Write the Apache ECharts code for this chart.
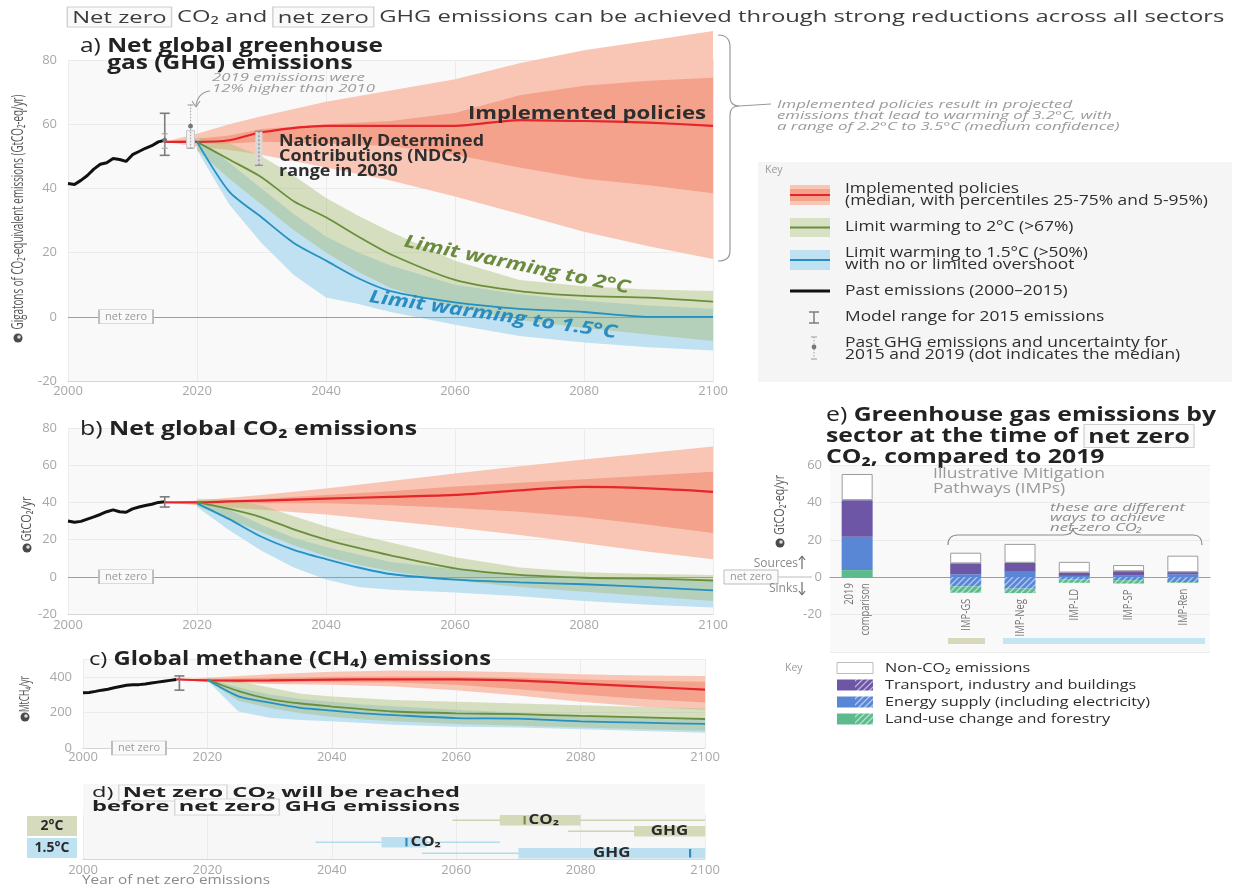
<!DOCTYPE html>
<html>
<head>
<meta charset="utf-8">
<title>Net zero CO2 and net zero GHG emissions</title>
<script src="https://cdn.jsdelivr.net/npm/echarts@6.0.0/dist/echarts.min.js"></script>
<style>
  html, body { margin: 0; padding: 0; background: #ffffff; }
  #chart { width: 1239px; height: 889px; }
</style>
</head>
<body>
<div id="chart"></div>
<script>
// ---------- Past emissions 2000-2015 ----------
const pastYears = [2000, 2001, 2002, 2003, 2004, 2005, 2006, 2007, 2008, 2009, 2010, 2011, 2012, 2013, 2014, 2015];
const ghgPast = [41.5, 41.2, 42.5, 44, 46, 47.5, 48, 49.3, 49, 48.4, 50.5, 51.5, 52.5, 53.3, 54.5, 55];
const co2Past = [30, 29.3, 29.8, 31, 32.2, 33.5, 35, 36, 35, 34.7, 36.5, 37.5, 38.3, 39, 40, 40.3];
const ch4Past = [310, 312, 318, 325, 330, 338, 345, 352, 355, 356, 360, 365, 370, 375, 380, 385];

// ---------- Implemented policies (median, 25-75%, 5-95%) ----------
const policyYears = [2015, 2020, 2025, 2030, 2040, 2050, 2060, 2070, 2080, 2090, 2100];
const ghgPolicyMed = [54.5, 54.5, 55, 57.5, 59.5, 59.5, 59.5, 61.3, 61, 60.5, 59.5];
const ghgPolicyP25 = [54.5, 54, 54, 54.5, 54, 53.2, 50.5, 46.5, 43, 41, 38.5];
const ghgPolicyP75 = [54.5, 55.5, 56.5, 58.5, 60, 61, 63.5, 69, 72, 73.5, 74.5];
const ghgPolicyP5 = [54.5, 53, 52, 50.5, 46.5, 42.5, 37.5, 32, 26.5, 22, 18];
const ghgPolicyP95 = [54.5, 57, 60, 62.5, 67, 70.5, 74, 79, 83, 86, 89];

const co2PolicyMed = [40, 40, 40.5, 41, 42, 43, 44, 46.5, 48.3, 47.5, 45.7];
const co2PolicyP25 = [40, 39.5, 39.5, 39.5, 39.5, 38.5, 37, 35, 32, 28, 23.5];
const co2PolicyP75 = [40, 40.5, 41.3, 42, 44, 46, 48.5, 50.5, 52.5, 54.5, 56.5];
const co2PolicyP5 = [40, 38.5, 37.3, 36, 33.5, 30, 26.5, 22.5, 18, 13.5, 9.5];
const co2PolicyP95 = [40, 41, 42.5, 44, 47.5, 51.5, 55.5, 59.5, 63, 66.5, 70];

const ch4PolicyMed = [385, 380, 379, 380, 384, 386, 385, 378, 362, 345, 328];
const ch4PolicyP25 = [385, 375, 372, 370, 370, 368, 355, 330, 300, 275, 255];
const ch4PolicyP75 = [385, 388, 392, 395, 400, 402, 400, 395, 385, 378, 372];
const ch4PolicyP5 = [385, 370, 365, 360, 355, 345, 325, 295, 260, 232, 215];
const ch4PolicyP95 = [385, 395, 405, 415, 428, 435, 432, 425, 415, 408, 405];

// ---------- Mitigation pathways: 2°C (>67%) and 1.5°C (>50%) ----------
const pathYears = [2020, 2025, 2030, 2035, 2040, 2045, 2050, 2060, 2070, 2080, 2090, 2100];
const ghg2Med = [54.5, 49, 43.5, 36, 31, 25, 19.5, 11.5, 8, 6.5, 6, 4.7];
const ghg2Hi = [56, 54, 50, 44, 37, 31.5, 26.5, 17.5, 11.5, 9.5, 8.5, 8];
const ghg2Lo = [52, 43, 35, 27, 20, 14, 9, 3, -1, -3.5, -5.5, -7.5];
const ghg15Med = [54.5, 39, 31, 23, 17.5, 12, 8, 4.5, 2.5, 1.5, 0, 0];
const ghg15Hi = [56, 48, 40, 32, 25, 20, 16, 10, 7, 5, 3.5, 2.5];
const ghg15Lo = [52, 35, 23, 13, 6, 4, 1.5, -2.5, -6, -8, -9.5, -10.5];

const co22Med = [40, 36.5, 32, 25.5, 20, 15.5, 11.5, 4.5, 1, -0.5, -1, -2];
const co22Hi = [42, 41.5, 38.5, 32.5, 27, 22.5, 18.5, 10.5, 5, 2.5, 1.5, 1];
const co22Lo = [38, 31, 24, 17, 11, 6.5, 3, -2, -5.5, -8, -10.5, -13];
const co215Med = [39.5, 31, 21.5, 14.5, 9.5, 5, 1.5, -1.5, -3, -4, -5.5, -7.3];
const co215Hi = [41, 36, 28, 21, 16, 12, 8, 4, 1.5, 0, -1, -1.5];
const co215Lo = [37.5, 25, 14, 5, -1.5, -5.5, -7, -8.5, -10.5, -13, -15, -16.5];

const ch42Med = [385, 320, 275, 250, 233, 218, 205, 195, 190, 180, 172, 163];
const ch42Hi = [395, 375, 340, 305, 290, 280, 270, 260, 250, 240, 230, 222];
const ch42Lo = [378, 265, 225, 195, 175, 160, 150, 135, 125, 115, 105, 97];
const ch415Med = [383, 290, 255, 225, 210, 195, 185, 168, 165, 150, 142, 135];
const ch415Hi = [390, 340, 300, 275, 260, 245, 235, 215, 200, 185, 175, 165];
const ch415Lo = [378, 205, 170, 158, 150, 140, 130, 120, 115, 105, 95, 85];

// ---------- 2015 model ranges, past uncertainty, NDC range ----------
const ghgModelRange2015 = [[2015, 50.3, 63.4]];
const co2ModelRange2015 = [[2015, 37.5, 43]];
const ch4ModelRange2015 = [[2015.5, 325, 405]];
const ghgPastUncertainty = [[2015, 52.5, 57, 55], [2019, 52.5, 66, 59.4]];
const ghg2019Box = [[2019, 52.5, 58]];
const ndc2030 = [[2029.6, 47.2, 57.8]];

// ---------- Year of net zero (panel d) ----------
const netZeroRows = ['2°C', '1.5°C'];
const nzGas = ['CO₂', 'GHG', 'CO₂', 'GHG'];
const nzRow = [0, 0, 1, 1];
const nzWhiskerLo = [2059.4, 2078, 2037.4, 2054.5];
const nzBoxLo = [2067, 2088.6, 2048, 2070];
const nzMedian = [2071, null, 2052, 2097.6];
const nzBoxHi = [2080, 2100, 2055.3, 2100];
const nzWhiskerHi = [2100, 2100, 2067, 2100];

// ---------- Sector emissions at net zero CO2 (panel e) ----------
const sectorCats = ['2019\ncomparison', '', 'IMP-GS', 'IMP-Neg', 'IMP-LD', 'IMP-SP', 'IMP-Ren'];
const landUseSource = [3.8, '-', '-', '-', '-', '-', '-'];
const energySource = [17.8, '-', 1.6, 2.9, 0.7, 0.8, 1.6];
const tibSource = [19.6, '-', 5.8, 4.8, 1.8, 2.4, 1.1];
const nonCO2 = [14, '-', 5.7, 10.1, 5.7, 3.3, 8.8];
const energySink = ['-', '-', -4.9, -6.1, -1.2, -1.6, -2.6];
const landUseSink = ['-', '-', -3.4, -2.4, -1.8, -1.8, -0.4];

// ---------- styling ----------
const FONT = 'Open Sans';
const C = {
  redLight: '#f9c6b6', redDark: '#f4a28b', red: '#e5242b',
  greenBand: 'rgba(168,188,118,0.45)', green: '#6a8f3c',
  blueBand: '#c0e1f2', blue: '#2590c2',
  black: '#111111', axis: '#a8a8a8', grid: '#ebebeb', bg: '#f9f9f9',
  purple: '#6e56a6', energy: '#5a86d6', land: '#5cba8d'
};

const mctx = document.createElement('canvas').getContext('2d');
function measure(str, size, weight, italic) {
  mctx.font = (italic ? 'italic ' : '') + (weight || 'normal') + ' ' + size + 'px "' + FONT + '"';
  return mctx.measureText(str).width;
}
function fit(parts, target) {
  const w = parts.reduce((s, p) => s + measure(p[0], p[1], p[2], p[3]) + (p[4] || 0), 0);
  return target / w;
}
function rs(size, weight, color, extra) {
  return Object.assign({ fontSize: size, fontFamily: FONT, fontWeight: weight || 'normal', fontStyle: 'normal', fill: color || '#222' }, extra || {});
}
function boxed(size, weight, color) {
  return rs(size, weight, color, { borderColor: '#cfcfcf', borderWidth: 1, padding: [2, 3, 0, 3], backgroundColor: '#fafafa' });
}
function label(x, y, text, o) {
  o = o || {};
  return {
    type: 'text', x: x, y: y, rotation: o.rot || 0, scaleX: o.sx || 1, z: 60, silent: true,
    style: {
      text: text, fontSize: o.size || 13, fontFamily: FONT, fontWeight: o.weight || 'normal',
      fontStyle: o.italic ? 'italic' : 'normal', fill: o.color || '#333',
      align: o.align || 'left', verticalAlign: 'middle', rich: o.rich
    }
  };
}
// simple M/L/C path string -> line and bezier graphic elements
function strokePath(d, stroke, width, z) {
  const out = [];
  let cx = 0, cy = 0, m;
  const re = /([MLC])([^MLC]*)/g;
  while ((m = re.exec(d))) {
    const n = m[2].trim().split(/[\s,]+/).map(Number);
    const st = { stroke: stroke, lineWidth: width, fill: null };
    if (m[1] === 'M') { cx = n[0]; cy = n[1]; }
    else if (m[1] === 'L') {
      out.push({ type: 'line', silent: true, z: z || 60, shape: { x1: cx, y1: cy, x2: n[0], y2: n[1] }, style: st });
      cx = n[0]; cy = n[1];
    } else {
      out.push({ type: 'bezierCurve', silent: true, z: z || 60,
        shape: { x1: cx, y1: cy, cpx1: n[0], cpy1: n[1], cpx2: n[2], cpy2: n[3], x2: n[4], y2: n[5] }, style: st });
      cx = n[4]; cy = n[5];
    }
  }
  return out;
}
function hatch(base, stripe) {
  const c = document.createElement('canvas');
  c.width = 6; c.height = 6;
  const g = c.getContext('2d');
  g.fillStyle = base; g.fillRect(0, 0, 6, 6);
  g.strokeStyle = stripe; g.lineWidth = 1.3;
  g.beginPath();
  g.moveTo(-1, 7); g.lineTo(7, -1);
  g.moveTo(-4, 4); g.lineTo(4, -4);
  g.moveTo(2, 10); g.lineTo(10, 2);
  g.stroke();
  return { image: c, repeat: 'repeat' };
}

// ---------- series builders ----------
function pairs(xs, ys) { return xs.map((x, i) => [x, ys[i]]); }

function bandSeries(idx, xs, lo, hi, color, z) {
  const pts = xs.map((x, i) => [x, lo[i], hi[i]]);
  return {
    type: 'custom', xAxisIndex: idx, yAxisIndex: idx, z: z, silent: true, clip: false,
    data: pts, encode: { x: 0, y: [1, 2] },
    renderItem(params, api) {
      if (params.dataIndex !== 0) return null;
      const top = pts.map(p => api.coord([p[0], p[2]]));
      const bot = pts.map(p => api.coord([p[0], p[1]])).reverse();
      return { type: 'polygon', shape: { points: top.concat(bot) }, style: { fill: color } };
    }
  };
}
function lineSeries(idx, xs, ys, color, width, z, extra) {
  return Object.assign({
    type: 'line', xAxisIndex: idx, yAxisIndex: idx, data: pairs(xs, ys), symbol: 'none',
    smooth: 0.25, lineStyle: { color: color, width: width }, z: z, silent: true, clip: false
  }, extra || {});
}
function rangeSeries(idx, items, color, lw, cap, z) {
  return {
    type: 'custom', xAxisIndex: idx, yAxisIndex: idx, z: z, silent: true,
    data: items, encode: { x: 0, y: [1, 2] },
    renderItem(params, api) {
      const a = api.coord([api.value(0), api.value(1)]);
      const b = api.coord([api.value(0), api.value(2)]);
      const st = { stroke: color, lineWidth: lw };
      return { type: 'group', children: [
        { type: 'line', shape: { x1: a[0], y1: a[1], x2: b[0], y2: b[1] }, style: st },
        { type: 'line', shape: { x1: a[0] - cap, y1: a[1], x2: a[0] + cap, y2: a[1] }, style: st },
        { type: 'line', shape: { x1: b[0] - cap, y1: b[1], x2: b[0] + cap, y2: b[1] }, style: st }
      ] };
    }
  };
}
function netZeroMark(coordX) {
  return {
    silent: true, symbol: 'rect', symbolSize: [54, 14],
    itemStyle: { color: C.bg, borderColor: '#bdbdbd', borderWidth: 1 },
    label: { show: true, position: 'inside', formatter: 'net zero', color: '#9a9a9a', fontSize: 11, fontFamily: FONT },
    data: [{ coord: [coordX, 0] }]
  };
}
function zeroLine() {
  return { silent: true, symbol: 'none', label: { show: false },
    lineStyle: { color: '#9d9d9d', width: 1.2, type: 'solid' }, data: [{ yAxis: 0 }] };
}

function panelSeries(idx, d) {
  const out = [
    bandSeries(idx, policyYears, d.p5, d.p95, C.redLight, 1),
    bandSeries(idx, policyYears, d.p25, d.p75, C.redDark, 2),
    bandSeries(idx, pathYears, d.b15Lo, d.b15Hi, C.blueBand, 3),
    bandSeries(idx, pathYears, d.b2Lo, d.b2Hi, C.greenBand, 4),
    lineSeries(idx, policyYears, d.med, C.red, 2.2, 6),
    lineSeries(idx, pathYears, d.m2, C.green, 1.8, 6),
    lineSeries(idx, pathYears, d.m15, C.blue, 1.8, 6),
    lineSeries(idx, pastYears, d.past, C.black, 3, 7, { smooth: 0, markPoint: netZeroMark(2009) })
  ];
  if (d.zero) {
    out.push({ type: 'line', xAxisIndex: idx, yAxisIndex: idx, data: [], z: 0.5, silent: true, markLine: zeroLine() });
  }
  out.push(rangeSeries(idx, d.range, '#7d7d7d', 1.6, 5, 9));
  return out;
}

const series = [].concat(
  panelSeries(0, { p5: ghgPolicyP5, p95: ghgPolicyP95, p25: ghgPolicyP25, p75: ghgPolicyP75, med: ghgPolicyMed,
    b15Lo: ghg15Lo, b15Hi: ghg15Hi, b2Lo: ghg2Lo, b2Hi: ghg2Hi, m2: ghg2Med, m15: ghg15Med, past: ghgPast, range: ghgModelRange2015, zero: true }),
  panelSeries(1, { p5: co2PolicyP5, p95: co2PolicyP95, p25: co2PolicyP25, p75: co2PolicyP75, med: co2PolicyMed,
    b15Lo: co215Lo, b15Hi: co215Hi, b2Lo: co22Lo, b2Hi: co22Hi, m2: co22Med, m15: co215Med, past: co2Past, range: co2ModelRange2015, zero: true }),
  panelSeries(2, { p5: ch4PolicyP5, p95: ch4PolicyP95, p25: ch4PolicyP25, p75: ch4PolicyP75, med: ch4PolicyMed,
    b15Lo: ch415Lo, b15Hi: ch415Hi, b2Lo: ch42Lo, b2Hi: ch42Hi, m2: ch42Med, m15: ch415Med, past: ch4Past, range: ch4ModelRange2015, zero: false })
);

// 2019 estimate box, past uncertainty whiskers and NDC range (panel a)
series.push({
  type: 'custom', xAxisIndex: 0, yAxisIndex: 0, z: 8, silent: true, data: ghg2019Box, encode: { x: 0, y: [1, 2] },
  renderItem(params, api) {
    const a = api.coord([api.value(0), api.value(1)]);
    const b = api.coord([api.value(0), api.value(2)]);
    return { type: 'rect', shape: { x: a[0] - 4, y: b[1], width: 8, height: a[1] - b[1] },
      style: { fill: '#f0f0f0', stroke: '#c8c8c8', lineWidth: 1 } };
  }
});
series.push({
  type: 'custom', xAxisIndex: 0, yAxisIndex: 0, z: 10, silent: true, data: ghgPastUncertainty, encode: { x: 0, y: [1, 2] },
  renderItem(params, api) {
    const x = api.value(0);
    const a = api.coord([x, api.value(1)]), b = api.coord([x, api.value(2)]), m = api.coord([x, api.value(3)]);
    const st = { stroke: '#a9a9a9', lineWidth: 1.2 };
    return { type: 'group', children: [
      { type: 'line', shape: { x1: a[0], y1: a[1], x2: b[0], y2: b[1] }, style: Object.assign({ lineDash: [1.5, 1.5] }, st) },
      { type: 'line', shape: { x1: a[0] - 3, y1: a[1], x2: a[0] + 3, y2: a[1] }, style: st },
      { type: 'line', shape: { x1: b[0] - 3, y1: b[1], x2: b[0] + 3, y2: b[1] }, style: st },
      { type: 'circle', shape: { cx: m[0], cy: m[1], r: 2.4 }, style: { fill: '#777' } }
    ] };
  }
});
series.push({
  type: 'custom', xAxisIndex: 0, yAxisIndex: 0, z: 10, silent: true, data: ndc2030, encode: { x: 0, y: [1, 2] },
  renderItem(params, api) {
    const x = api.value(0);
    const a = api.coord([x, api.value(1)]), b = api.coord([x, api.value(2)]);
    const st = { stroke: '#8a8a8a', lineWidth: 1.2 };
    return { type: 'group', children: [
      { type: 'rect', shape: { x: a[0] - 3.5, y: b[1], width: 7, height: a[1] - b[1] }, style: { fill: '#d9d9d9' } },
      { type: 'line', shape: { x1: a[0], y1: a[1], x2: b[0], y2: b[1] }, style: Object.assign({ lineDash: [2, 2] }, st) },
      { type: 'line', shape: { x1: a[0] - 4, y1: a[1], x2: a[0] + 4, y2: a[1] }, style: st },
      { type: 'line', shape: { x1: b[0] - 4, y1: b[1], x2: b[0] + 4, y2: b[1] }, style: st }
    ] };
  }
});

// Panel d: year of net zero
series.push({
  type: 'custom', xAxisIndex: 3, yAxisIndex: 3, z: 5, silent: true,
  data: nzRow.map((r, i) => [nzWhiskerLo[i], r]), encode: { x: 0, y: 1 },
  renderItem(params, api) {
    const i = params.dataIndex;
    const band = api.size([0, 1])[1];
    const rowC = api.coord([2000, nzRow[i]])[1];
    const sub = nzGas[i] === 'GHG' ? 1 : 0;
    const h = band / 2 - 0.5;
    const top = rowC - band / 2 + sub * (band / 2);
    const cy = top + h / 2;
    const X = v => api.coord([v, nzRow[i]])[0];
    const light = nzRow[i] === 0 ? '#d4d9ba' : '#bde0f1';
    const whisk = nzRow[i] === 0 ? '#cdd3b0' : '#b3dbee';
    const dark = nzRow[i] === 0 ? '#7b8e47' : '#2a8fc2';
    const kids = [
      { type: 'line', shape: { x1: X(nzWhiskerLo[i]), y1: cy, x2: X(nzWhiskerHi[i]), y2: cy }, style: { stroke: whisk, lineWidth: 1.6 } },
      { type: 'rect', shape: { x: X(nzBoxLo[i]), y: top, width: X(nzBoxHi[i]) - X(nzBoxLo[i]), height: h }, style: { fill: light } }
    ];
    let lx, align;
    if (nzMedian[i] != null) {
      const mx = X(nzMedian[i]);
      kids.push({ type: 'line', shape: { x1: mx, y1: top + 1, x2: mx, y2: top + h - 1 }, style: { stroke: dark, lineWidth: 2.2 } });
    }
    if (nzGas[i] === 'CO₂') { lx = X(nzMedian[i]) + 4; align = 'left'; }
    else { lx = (X(nzBoxLo[i]) + X(nzBoxHi[i])) / 2; align = 'center'; }
    kids.push({ type: 'text', x: lx, y: cy, scaleX: 1.25,
      style: { text: nzGas[i], fontSize: 13.5, fontWeight: 'bold', fontFamily: FONT, fill: '#2a2a2a', align: align, verticalAlign: 'middle' } });
    return { type: 'group', children: kids };
  }
});

// Panel e: sector bars
const hatchEnergy = hatch(C.energy, 'rgba(255,255,255,0.55)');
const hatchLand = hatch(C.land, 'rgba(255,255,255,0.55)');
function barSeries(data, color, extra) {
  return Object.assign({ type: 'bar', xAxisIndex: 4, yAxisIndex: 4, stack: 'sector', barWidth: 31, data: data,
    itemStyle: { color: color }, silent: true, z: 5 }, extra || {});
}
series.push(barSeries(landUseSource, C.land));
series.push(barSeries(energySource, C.energy));
series.push(barSeries(tibSource, C.purple));
series.push(barSeries(nonCO2, '#ffffff', { itemStyle: { color: '#ffffff', borderColor: '#9c9c9c', borderWidth: 1 } }));
series.push(barSeries(energySink, hatchEnergy));
series.push(barSeries(landUseSink, hatchLand));
// category names, set just below the lowest part of each bar
const num = v => (typeof v === 'number' ? v : 0);
series.push({
  type: 'custom', xAxisIndex: 4, yAxisIndex: 4, z: 6, silent: true,
  data: sectorCats.map((c, i) => [i, num(energySink[i]) + num(landUseSink[i])]), encode: { x: 0, y: 1 },
  renderItem(params, api) {
    const i = params.dataIndex;
    if (!sectorCats[i]) return null;
    const p = api.coord([i, api.value(1)]);
    return { type: 'text', x: p[0], y: p[1] + 6, rotation: Math.PI / 2, scaleX: 0.7,
      style: { text: sectorCats[i], fontSize: 13.5, fontFamily: FONT, fill: '#757575', align: 'right', verticalAlign: 'middle', lineHeight: 16 } };
  }
});

// ---------- axes ----------
const axisLabelStyle = { color: C.axis, fontSize: 13, fontFamily: FONT };
function yearAxis(grid, margin) {
  return { gridIndex: grid, type: 'value', min: 2000, max: 2100, interval: 20,
    axisLabel: Object.assign({ margin: margin, formatter: v => String(v) }, axisLabelStyle),
    axisLine: { show: true, onZero: false, lineStyle: { color: '#d6d6d6' } }, axisTick: { show: false },
    splitLine: { show: true, lineStyle: { color: C.grid } } };
}
function valAxis(grid, min, max, interval, extra) {
  return Object.assign({ gridIndex: grid, type: 'value', min: min, max: max, interval: interval,
    axisLabel: Object.assign({ margin: 11, formatter: v => String(v) }, axisLabelStyle),
    axisLine: { show: false }, axisTick: { show: false },
    splitLine: { show: true, lineStyle: { color: C.grid } } }, extra || {});
}

const xAxis = [
  yearAxis(0, 4), yearAxis(1, 5), yearAxis(2, 3), yearAxis(3, 5),
  { gridIndex: 4, type: 'category', data: sectorCats,
    axisLine: { show: true, onZero: true, lineStyle: { color: '#9d9d9d', width: 1.2 } }, axisTick: { show: false },
    axisLabel: { show: false }, splitLine: { show: false } }
];
const yAxis = [
  valAxis(0, -20, 80, 20),
  valAxis(1, -20, 80, 20),
  valAxis(2, 0, 500, 200, { axisLabel: Object.assign({ margin: 11, showMaxLabel: false, formatter: v => String(v) }, axisLabelStyle) }),
  { gridIndex: 3, type: 'category', data: netZeroRows, inverse: true,
    axisLine: { show: false }, axisTick: { show: false }, splitLine: { show: false },
    axisLabel: { margin: 6, formatter: (v, i) => (i === 0 ? '{w|' : '{c|') + v + '}',
      rich: {
        w: { backgroundColor: '#d6dbbd', width: 50, height: 20, lineHeight: 20, align: 'center', fontSize: 14, fontWeight: 'bold', color: '#2a2a2a', fontFamily: FONT },
        c: { backgroundColor: '#bfe2f2', width: 50, height: 20, lineHeight: 20, align: 'center', fontSize: 14, fontWeight: 'bold', color: '#2a2a2a', fontFamily: FONT }
      } } },
  valAxis(4, -40, 60, 20, { axisLabel: Object.assign({ margin: 8, formatter: v => (v === -40 ? '' : String(v)) }, axisLabelStyle) })
];

// ---------- annotation graphics ----------
let g = [];
// headline
{
  const parts = [['Net zero', 17, 'normal', 0, 8], [' CO₂ and ', 17], ['net zero', 17, 'normal', 0, 8], [' GHG emissions can be achieved through strong reductions across all sectors', 17]];
  const sx = fit(parts, 1162);
  g.push(label(68, 17, '{bx|Net zero} CO₂ and {bx|net zero} GHG emissions can be achieved through strong reductions across all sectors',
    { sx: sx, size: 17, color: '#3c3c3c', rich: { bx: boxed(17, 'normal', '#3c3c3c') } }));
}
// panel a
const sxTitle = fit([['a) ', 20, 'normal'], ['Net global greenhouse', 20, 'bold']], 303);
g.push(label(80, 46, '{r|a) }{b|Net global greenhouse}', { sx: sxTitle, size: 20, rich: { r: rs(20, 'normal', '#222'), b: rs(20, 'bold', '#222') } }));
g.push(label(80 + measure('a) ', 20) * sxTitle, 63, 'gas (GHG) emissions', { sx: sxTitle, size: 20, weight: 'bold', color: '#222' }));
{
  const sx = fit([['12% higher than 2010', 11.5, 'normal', 1]], 163);
  g.push(label(212, 78, '2019 emissions were', { sx: sx, size: 11.5, italic: true, color: '#9a9a9a' }));
  g.push(label(212, 89, '12% higher than 2010', { sx: sx, size: 11.5, italic: true, color: '#9a9a9a' }));
}
g = g.concat(strokePath('M210,91 C202,92 197,97 196,106 M192,101 L196,107 L200,101', '#9a9a9a', 1.1));
g.push(label(468, 114, 'Implemented policies', { sx: fit([['Implemented policies', 18, 'bold']], 238), size: 18, weight: 'bold', color: '#2e2e2e' }));
{
  const sx = fit([['Nationally Determined', 15.5, 'bold']], 205);
  g.push(label(279, 142, 'Nationally Determined', { sx: sx, size: 15.5, weight: 'bold', color: '#2e2e2e' }));
  g.push(label(279, 157, 'Contributions (NDCs)', { sx: sx, size: 15.5, weight: 'bold', color: '#2e2e2e' }));
  g.push(label(279, 172, 'range in 2030', { sx: sx, size: 15.5, weight: 'bold', color: '#2e2e2e' }));
}
g.push(label(517, 265, 'Limit warming to 2°C', { sx: fit([['Limit warming to 2°C', 18, 'bold', 1]], 230), size: 18, weight: 'bold', italic: true, color: '#6b8c3e', align: 'center', rot: -0.205 }));
g.push(label(493, 315, 'Limit warming to 1.5°C', { sx: fit([['Limit warming to 1.5°C', 18, 'bold', 1]], 250), size: 18, weight: 'bold', italic: true, color: '#2a8cbf', align: 'center', rot: -0.145 }));
// brace + note
g = g.concat(strokePath('M718,35 C726,35 730,39 730,47 L730,97 C730,103 733,106 739,106 C733,106 730,109 730,115 L730,251 C730,258 726,261 718,261 M739,106 L771,104', '#9a9a9a', 1.2));
{
  const sx = fit([['emissions that lead to warming of 3.2°C, with', 11.5, 'normal', 1]], 335);
  g.push(label(777, 105, 'Implemented policies result in projected', { sx: sx, size: 11.5, italic: true, color: '#9a9a9a' }));
  g.push(label(777, 116, 'emissions that lead to warming of 3.2°C, with', { sx: sx, size: 11.5, italic: true, color: '#9a9a9a' }));
  g.push(label(777, 127, 'a range of 2.2°C to 3.5°C (medium confidence)', { sx: sx, size: 11.5, italic: true, color: '#9a9a9a' }));
}
// key box
g.push({ type: 'rect', silent: true, z: 40, shape: { x: 758, y: 162, width: 474, height: 220 }, style: { fill: '#f5f5f5' } });
g.push(label(765, 170, 'Key', { size: 10.5, color: '#9a9a9a' }));
g.push({ type: 'rect', silent: true, z: 50, shape: { x: 790, y: 185, width: 40, height: 20 }, style: { fill: C.redLight } });
g.push({ type: 'rect', silent: true, z: 51, shape: { x: 790, y: 189, width: 40, height: 12 }, style: { fill: C.redDark } });
g.push({ type: 'line', silent: true, z: 52, shape: { x1: 790, y1: 195, x2: 830, y2: 195 }, style: { stroke: C.red, lineWidth: 2 } });
g.push({ type: 'rect', silent: true, z: 50, shape: { x: 790, y: 218, width: 40, height: 19 }, style: { fill: '#d9e1c4' } });
g.push({ type: 'line', silent: true, z: 52, shape: { x1: 790, y1: 227.5, x2: 830, y2: 227.5 }, style: { stroke: C.green, lineWidth: 2 } });
g.push({ type: 'rect', silent: true, z: 50, shape: { x: 790, y: 250, width: 40, height: 20 }, style: { fill: C.blueBand } });
g.push({ type: 'line', silent: true, z: 52, shape: { x1: 790, y1: 260, x2: 830, y2: 260 }, style: { stroke: C.blue, lineWidth: 2 } });
g.push({ type: 'line', silent: true, z: 52, shape: { x1: 790, y1: 291, x2: 830, y2: 291 }, style: { stroke: C.black, lineWidth: 3 } });
g = g.concat(strokePath('M814,312 L814,323 M809,312 L819,312 M809,323 L819,323', '#7d7d7d', 1.5, 52));
g = g.concat(strokePath('M811,337 L817,337 M811,359 L817,359', '#a9a9a9', 1.2, 52));
g.push({ type: 'line', silent: true, z: 52, shape: { x1: 814, y1: 337, x2: 814, y2: 359 }, style: { stroke: '#b5b5b5', lineWidth: 1.2, lineDash: [1.5, 1.5] } });
g.push({ type: 'circle', silent: true, z: 53, shape: { cx: 814, cy: 347, r: 2.4 }, style: { fill: '#777' } });
{
  const sx = fit([['(median, with percentiles 25-75% and 5-95%)', 14]], 363);
  const rows = [
    ['Implemented policies', 189], ['(median, with percentiles 25-75% and 5-95%)', 201],
    ['Limit warming to 2°C (>67%)', 227], ['Limit warming to 1.5°C (>50%)', 253], ['with no or limited overshoot', 265],
    ['Past emissions (2000–2015)', 291], ['Model range for 2015 emissions', 317],
    ['Past GHG emissions and uncertainty for', 343], ['2015 and 2019 (dot indicates the median)', 355]
  ];
  rows.forEach(r => g.push(label(845, r[1], r[0], { sx: sx, size: 14, color: '#2e2e2e' })));
}
// panel b
{
  const sx = fit([['b) ', 20, 'normal'], ['Net global CO₂ emissions', 20, 'bold']], 337);
  g.push(label(80, 429, '{r|b) }{b|Net global CO₂ emissions}', { sx: sx, size: 20, rich: { r: rs(20, 'normal', '#222'), b: rs(20, 'bold', '#222') } }));
}
g.push({ type: 'line', silent: true, z: 30, shape: { x1: 778, y1: 577, x2: 812, y2: 577 }, style: { stroke: '#bdbdbd', lineWidth: 1 } });
g.push({ type: 'rect', silent: true, z: 40, shape: { x: 724, y: 570, width: 54, height: 14 }, style: { fill: '#fafafa', stroke: '#bdbdbd', lineWidth: 1 } });
g.push(label(751, 577, 'net zero', { size: 11, color: '#9a9a9a', align: 'center' }));
// panel c
{
  const sx = fit([['c) ', 19, 'normal'], ['Global methane (CH₄) emissions', 19, 'bold']], 402);
  g.push(label(89, 660, '{r|c) }{b|Global methane (CH₄) emissions}', { sx: sx, size: 19, rich: { r: rs(19, 'normal', '#222'), b: rs(19, 'bold', '#222') } }));
}
// panel d
g.push({ type: 'rect', silent: true, z: 1, shape: { x: 83, y: 784, width: 622, height: 31 }, style: { fill: '#f7f7f7' } });
{
  const sx = fit([['d) ', 15, 'normal'], ['Net zero', 15, 'bold', 0, 6], [' CO₂ will be reached', 15, 'bold']], 371);
  const bxStyle = { borderColor: '#d8d8d8', borderWidth: 1, padding: [0, 2, 0, 2], backgroundColor: '#fbfbfb', lineHeight: 14 };
  const rich = { r: rs(15, 'normal', '#222', { lineHeight: 14 }), b: rs(15, 'bold', '#222', { lineHeight: 14 }), bx: rs(15, 'bold', '#222', bxStyle) };
  g.push(label(92, 793, '{r|d) }{bx|Net zero}{b| CO₂ will be reached}', { sx: sx, size: 15, rich: rich }));
  g.push(label(92, 807, '{b|before }{bx|net zero}{b| GHG emissions}', { sx: sx, size: 15, rich: rich }));
}
g.push(label(82, 880, 'Year of net zero emissions', { sx: fit([['Year of net zero emissions', 13]], 188), size: 13, color: '#8a8a8a' }));
// panel e
{
  const sx = fit([['e) ', 20, 'normal'], ['Greenhouse gas emissions by', 20, 'bold']], 390);
  const rich = { r: rs(20, 'normal', '#222'), b: rs(20, 'bold', '#222'), bx: boxed(20, 'bold', '#222') };
  g.push(label(826, 415, '{r|e) }{b|Greenhouse gas emissions by}', { sx: sx, size: 20, rich: rich }));
  g.push(label(826, 436, '{b|sector at the time of }{bx|net zero}', { sx: sx, size: 20, rich: rich }));
  g.push(label(826, 457, '{b|CO₂, compared to 2019}', { sx: sx, size: 20, rich: rich }));
}
{
  const sx = fit([['Illustrative Mitigation', 14]], 172);
  g.push(label(933, 474, 'Illustrative Mitigation', { sx: sx, size: 14, color: '#9a9a9a' }));
  g.push(label(933, 489, 'Pathways (IMPs)', { sx: sx, size: 14, color: '#9a9a9a' }));
}
{
  const sx = fit([['these are different', 11.5, 'normal', 1]], 135);
  g.push(label(1050, 508, 'these are different', { sx: sx, size: 11.5, italic: true, color: '#8c8c8c' }));
  g.push(label(1050, 518, 'ways to achieve', { sx: sx, size: 11.5, italic: true, color: '#8c8c8c' }));
  g.push(label(1050, 528, 'net-zero CO₂', { sx: sx, size: 11.5, italic: true, color: '#8c8c8c' }));
}
g = g.concat(strokePath('M948,545 C948,538 951,535 958,535 L1063,535 C1069,535 1073,533 1073,528 C1073,533 1077,535 1083,535 L1193,535 C1199,535 1202,538 1202,545', '#8c8c8c', 1.2));
g.push(label(798, 564, 'Sources', { size: 12, color: '#8a8a8a', align: 'right' }));
g.push(label(798, 589, 'Sinks', { size: 12, color: '#8a8a8a', align: 'right' }));
g = g.concat(strokePath('M802,569 L802,557 M799,560 L802,556 L805,560 M802,582 L802,594 M799,591 L802,595 L805,591', '#6a6a6a', 1.2));
g.push({ type: 'rect', silent: true, z: 10, shape: { x: 948, y: 638, width: 37, height: 6 }, style: { fill: '#d8d9bc' } });
g.push({ type: 'rect', silent: true, z: 10, shape: { x: 1003, y: 638, width: 202, height: 6 }, style: { fill: '#c6e5f3' } });
// sector key
g.push(label(785, 668, 'Key', { size: 10.5, color: '#9a9a9a' }));
{
  const sx = fit([['Energy supply (including electricity)', 13.5]], 265);
  const rows = [
    ['Non-CO₂ emissions', 668, null], ['Transport, industry and buildings', 685, C.purple],
    ['Energy supply (including electricity)', 702, C.energy], ['Land-use change and forestry', 719, C.land]
  ];
  rows.forEach(r => {
    if (r[2]) {
      g.push({ type: 'rect', silent: true, z: 50, shape: { x: 837, y: r[1] - 5.5, width: 18, height: 11 }, style: { fill: r[2] } });
      g.push({ type: 'rect', silent: true, z: 50, shape: { x: 855, y: r[1] - 5.5, width: 18, height: 11 }, style: { fill: hatch(r[2], 'rgba(255,255,255,0.55)') } });
    } else {
      g.push({ type: 'rect', silent: true, z: 50, shape: { x: 837, y: r[1] - 5.5, width: 36, height: 11 }, style: { fill: '#ffffff', stroke: '#bdbdbd', lineWidth: 1 } });
    }
    g.push(label(885, r[1], r[0], { sx: sx, size: 13.5, color: '#2e2e2e' }));
  });
}
// axis titles (rotated) with globe marker
function axisTitle(cx, cy, text, len, iconY, size) {
  const sx = fit([[text, size]], len);
  g.push(label(cx, cy, text, { sx: sx, size: size, color: '#555', align: 'center', rot: Math.PI / 2 }));
  g.push({ type: 'circle', silent: true, z: 60, shape: { cx: cx, cy: iconY, r: 4.5 }, style: { fill: '#4a4a4a' } });
  g.push({ type: 'circle', silent: true, z: 61, shape: { cx: cx + 1, cy: iconY - 1, r: 1.8 }, style: { fill: '#dcdcdc' } });
}
axisTitle(18, 212, 'Gigatons of CO₂-equivalent emissions (GtCO₂-eq/yr)', 235, 338, 16);
axisTitle(27, 519, 'GtCO₂/yr', 45, 548, 15);
axisTitle(25, 694, 'MtCH₄/yr', 36, 717, 14);
axisTitle(780, 505, 'GtCO₂-eq/yr', 60, 543, 15);

const option = {
  animation: false,
  backgroundColor: '#ffffff',
  textStyle: { fontFamily: FONT },
  grid: [
    { left: 68, top: 60, width: 645, height: 321, show: true, backgroundColor: C.bg, borderWidth: 0 },
    { left: 68, top: 428, width: 645, height: 186, show: true, backgroundColor: C.bg, borderWidth: 0 },
    { left: 83, top: 659, width: 622, height: 89, show: true, backgroundColor: C.bg, borderWidth: 0 },
    { left: 83, top: 815, width: 622, height: 44, show: true, backgroundColor: '#f7f7f7', borderWidth: 0 },
    { left: 830, top: 465, width: 380, height: 187, show: true, backgroundColor: C.bg, borderWidth: 0 }
  ],
  xAxis: xAxis,
  yAxis: yAxis,
  series: series,
  graphic: { elements: g }
};

const chart = echarts.init(document.getElementById('chart'), null, { renderer: 'canvas' });
chart.setOption(option);
</script>
</body>
</html>
